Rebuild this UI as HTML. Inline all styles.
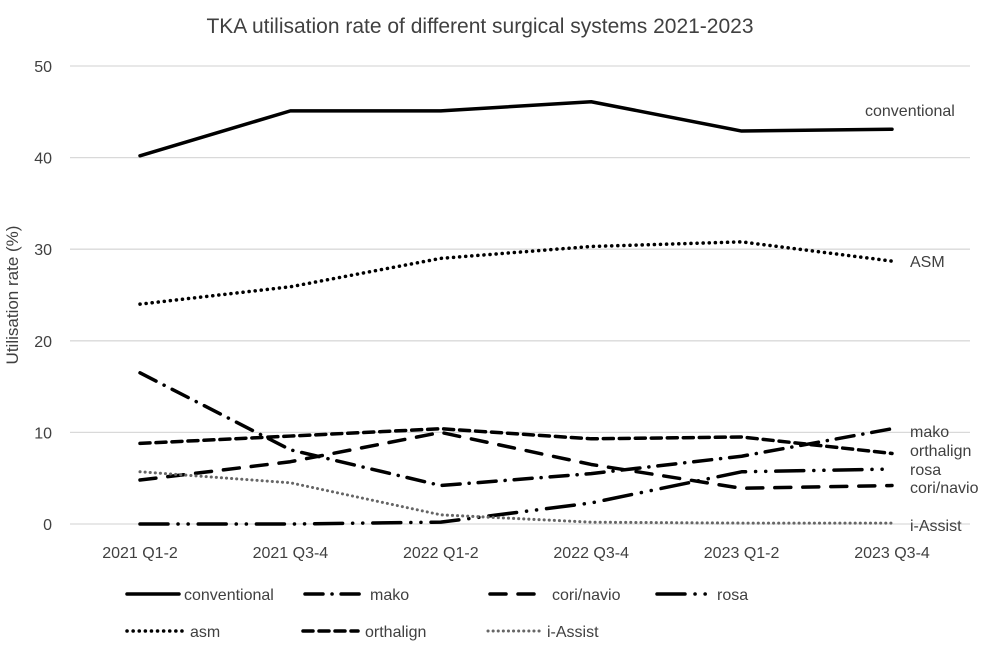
<!DOCTYPE html>
<html><head><meta charset="utf-8"><style>
body{margin:0;background:#fff;font-family:"Liberation Sans",sans-serif;}
svg text{font-family:"Liberation Sans",sans-serif;fill:#404040}
</style></head><body>
<svg id="c" width="992" height="666">
<text x="480" y="33" font-size="21" text-anchor="middle">TKA utilisation rate of different surgical systems 2021-2023</text>
<text transform="translate(18,295) rotate(-90)" font-size="17" text-anchor="middle">Utilisation rate (%)</text>
<g id="grid"></g><g id="series"></g><g id="legend"></g>
</svg>
<script>
const categories=["2021 Q1-2","2021 Q3-4","2022 Q1-2","2022 Q3-4","2023 Q1-2","2023 Q3-4"];
const yTicks=[0,10,20,30,40,50];
const conventional=[40.2,45.1,45.1,46.1,42.9,43.1];
const asm=[24.0,25.9,29.0,30.3,30.8,28.7];
const mako=[16.5,8.1,4.2,5.5,7.4,10.4];
const coriNavio=[4.8,6.8,10.0,6.5,3.9,4.2];
const rosa=[0,0,0.2,2.3,5.7,6.0];
const orthalign=[8.8,9.6,10.4,9.3,9.5,7.7];
const iAssist=[5.7,4.5,1.0,0.2,0.1,0.1];
const ns="http://www.w3.org/2000/svg";
const x=i=>140+i*150.4, y=v=>524-v*9.16;
function mk(t,a,p){const e=document.createElementNS(ns,t);for(const k in a)e.setAttribute(k,a[k]);p.appendChild(e);return e;}
const g=document.getElementById('grid');
yTicks.forEach(t=>{const l=mk('line',{x1:70,x2:970,y1:y(t),y2:y(t),stroke:'#d9d9d9','stroke-width':1.3},g);


const tx=mk('text',{x:52,y:y(t)+6,'font-size':16,'text-anchor':'end'},g);tx.textContent=t;

});
categories.forEach((c,i)=>{const tx=mk('text',{x:x(i),y:558,'font-size':16,'text-anchor':'middle'},g);tx.textContent=c;

});
const S=[
["conventional",conventional,"none","conventional"],
["asm",asm,"0.1 6","ASM"],
["mako",mako,"18 9 0.1 9","mako"],
["cori/navio",coriNavio,"16 12","cori/navio"],
["rosa",rosa,"28 10 0.1 10 0.1 10","rosa"],
["orthalign",orthalign,"10 6","orthalign"],
["i-Assist",iAssist,"0.1 5","i-Assist"]];
const sg=document.getElementById('series');
const labelY={"conventional":111,"asm":262,"mako":432,"cori/navio":488,"rosa":470,"orthalign":451,"i-Assist":526};
S.forEach(s=>{const d=s[1].map((v,i)=>(i?'L':'M')+x(i)+','+y(v)).join('');
const w=s[0]=="i-Assist"?3:3.5;
const col=s[0]=="i-Assist"?'#666':'#000';
const p=mk('path',{d:d,fill:'none',stroke:col,'stroke-width':w,'stroke-dasharray':s[2],'stroke-linecap':'round','stroke-linejoin':'round'},sg);


const t=mk('text',{x:s[0]=="conventional"?865:910,y:labelY[s[0]]+5,'font-size':16},sg);t.textContent=s[3];

});
const lg=document.getElementById('legend');
const L=[[0,127,600,52],[2,305,600,60],[3,490,600,55],[4,657,600,53],[1,127,637,55],[5,303,637,55],[6,488,637,55]];
L.forEach(a=>{const s=S[a[0]];const w=s[0]=="i-Assist"?3:3.5;
const l=mk('line',{x1:a[1],x2:a[1]+a[3],y1:a[2]-6,y2:a[2]-6,stroke:s[0]=="i-Assist"?'#666':'#000','stroke-width':w,'stroke-dasharray':s[2],'stroke-linecap':'round'},lg);

});
const LT=[["conventional",184,600],["mako",370,600],["cori/navio",552,600],["rosa",717,600],["asm",190,637],["orthalign",365,637],["i-Assist",547,637]];
LT.forEach(a=>{const t=mk('text',{x:a[1],y:a[2],'font-size':16},lg);t.textContent=a[0];

});
</script>
</body></html>
